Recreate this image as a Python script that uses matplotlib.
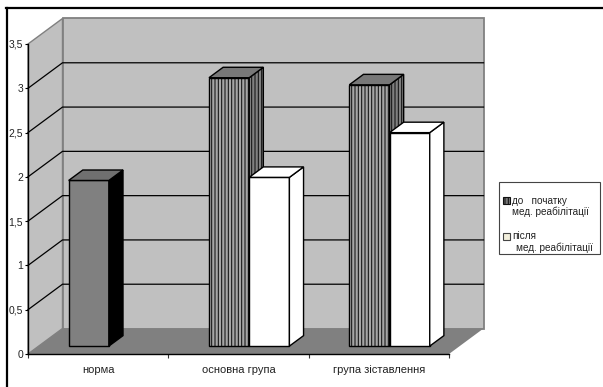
import numpy as np
import matplotlib
matplotlib.use("Agg")
import matplotlib.pyplot as plt
from matplotlib.patches import Polygon, Rectangle

plt.rcParams["font.family"] = ["Liberation Sans", "DejaVu Sans"]
plt.rcParams["hatch.linewidth"] = 0.75

categories = ["норма", "основна група", "група зіставлення"]
norm_values = [1.87, np.nan, np.nan]
before_values = [np.nan, 3.03, 2.95]
after_values = [np.nan, 1.905, 2.41]
y_ticks = [0, 0.5, 1, 1.5, 2, 2.5, 3, 3.5]
y_labels = ["0", "0,5", "1", "1,5", "2", "2,5", "3", "3,5"]
legend_before = ["до   початку", "мед. реабілітації"]
legend_after = ["після", "мед. реабілітації"]

W, H = 603, 387
fig = plt.figure(figsize=(W / 100, H / 100), dpi=100, facecolor="white")
ax = fig.add_axes([28 / W, (H - 354) / H, 421 / W, 310 / H])
ax.set_xlim(0, 3)
ax.set_ylim(0, 3.5)
ax.patch.set_visible(False)

# depth offset of the fake 3d box, in data units
DX = 34.5 / (421 / 3)
DY = 25.5 / (310 / 3.5)
D0, D1 = 0.31, 0.72
BAR_W = 0.2865


def p(x, y, d):
    return (x + d * DX, y + d * DY)


def poly(pts, fc, ec="black", lw=1.0, hatch=None, z=2):
    if hatch:
        ax.add_patch(Polygon(pts, facecolor=fc, edgecolor="#111111", lw=0, hatch=hatch, zorder=z, clip_on=False))
        fc = "none"
    ax.add_patch(Polygon(pts, facecolor=fc, edgecolor=ec, lw=lw, zorder=z, clip_on=False))


# walls and floor
poly([p(0, 0, 0), p(0, 3.5, 0), p(0, 3.5, 1), p(0, 0, 1)], "#c0c0c0", ec="#808080", z=1)
poly([p(0, 0, 1), p(0, 3.5, 1), p(3, 3.5, 1), p(3, 0, 1)], "#c0c0c0", ec="#808080", lw=1.3, z=1)
poly([p(0, 0, 0), p(3, 0, 0), p(3, 0, 1), p(0, 0, 1)], "#808080", ec="none", lw=0, z=1)

# grid lines
for v in y_ticks[1:-1]:
    xs, ys = zip(p(0, v, 0), p(0, v, 1), p(3, v, 1))
    ax.plot(xs, ys, color="black", lw=0.9, zorder=1.5, clip_on=False)


def bar3d(x, v, front, side, top, hatch=None):
    y0 = 0
    poly([p(x, y0, D0), p(x, v, D0), p(x + BAR_W, v, D0), p(x + BAR_W, y0, D0)], front, hatch=hatch)
    poly([p(x + BAR_W, y0, D0), p(x + BAR_W, v, D0), p(x + BAR_W, v, D1), p(x + BAR_W, y0, D1)], side, hatch=hatch)
    poly([p(x, v, D0), p(x, v, D1), p(x + BAR_W, v, D1), p(x + BAR_W, v, D0)], top)


for i in range(len(categories)):
    mid = i + 0.5
    if not np.isnan(norm_values[i]):
        bar3d(mid - BAR_W, norm_values[i], "#808080", "black", "#707070")
    if not np.isnan(before_values[i]):
        bar3d(mid - BAR_W, before_values[i], "#a6a6a6", "#808080", "#787878", hatch="|||||")
    if not np.isnan(after_values[i]):
        bar3d(mid, after_values[i], "white", "white", "white")

# axes
for s in ["top", "right"]:
    ax.spines[s].set_visible(False)
for s in ["left", "bottom"]:
    ax.spines[s].set_linewidth(1.0)
    ax.spines[s].set_zorder(5)
ax.set_yticks(y_ticks)
ax.set_yticklabels(y_labels, fontsize=7.5, color="#222222")
ax.tick_params(axis="y", length=2.5, width=0.8, pad=1)
ax.set_xticks([0, 1, 2, 3])
ax.set_xticklabels([])
ax.tick_params(axis="x", length=3, width=0.8, color="#333333")
ax.set_xticks([0.5, 1.5, 2.5], minor=True)
ax.set_xticklabels(categories, minor=True, fontsize=8.0, color="#222222")
ax.tick_params(axis="x", which="minor", length=0, pad=8)

# figure frame, only left and top are visible
fig.add_artist(plt.Line2D([6.5 / W, 6.5 / W], [0, (H - 7.5) / H], color="black", lw=1.6))
fig.add_artist(plt.Line2D([6 / W, 1], [(H - 7.5) / H, (H - 7.5) / H], color="black", lw=1.6))

# legend
fig.add_artist(Rectangle((498.7 / W, (H - 254) / H), 101 / W, 72.5 / H, transform=fig.transFigure,
                         facecolor="white", edgecolor="#444444", lw=0.8))
fig.add_artist(Rectangle((503 / W, (H - 204) / H), 7 / W, 7 / H, transform=fig.transFigure,
                         facecolor="#777777", edgecolor="#111111", lw=0.8, hatch="|||||"))
fig.add_artist(Rectangle((503 / W, (H - 240) / H), 7 / W, 7 / H, transform=fig.transFigure,
                         facecolor="#f2efdc", edgecolor="#444444", lw=0.8))
legend_text = [(512, 200.5, legend_before[0]), (512.5, 212, legend_before[1]),
               (512, 236, legend_after[0]), (516, 248, legend_after[1])]
for x, y, t in legend_text:
    fig.text(x / W, (H - y) / H, t, fontsize=7.2, color="#222222", va="center", ha="left")

fig.savefig("out.png", dpi=100, facecolor="white")
